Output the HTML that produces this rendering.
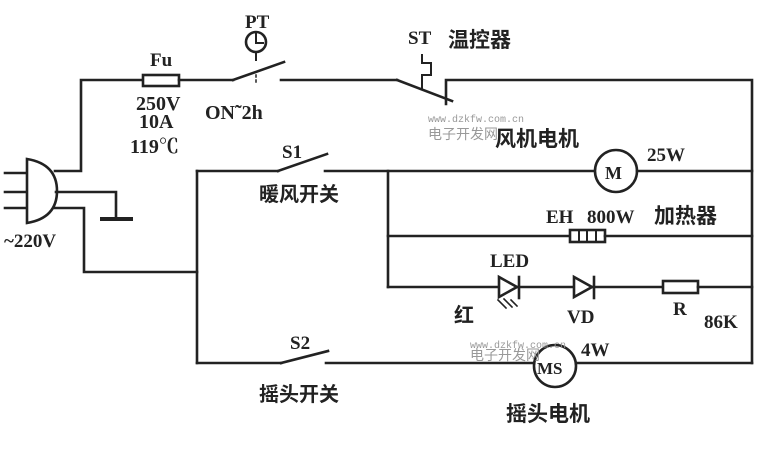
<!DOCTYPE html>
<html><head><meta charset="utf-8"><style>
html,body{margin:0;padding:0;background:#fff;}
svg text{font-family:"Liberation Serif","Noto Serif CJK SC",serif;font-weight:bold;fill:#222;}
.cn{font-family:"Liberation Sans","Noto Sans CJK SC",sans-serif;font-weight:bold;}
</style></head><body>
<svg width="761" height="448" viewBox="0 0 761 448" xmlns="http://www.w3.org/2000/svg">
<g stroke="#222" stroke-width="2.6" fill="none" stroke-linecap="square">
<line x1="5" y1="173" x2="27" y2="173"/><line x1="5" y1="192" x2="27" y2="192"/><line x1="5" y1="208" x2="27" y2="208"/>
<path d="M27 159 L27 223 Q57 218 57 191 Q57 164 27 159 Z" fill="#fff"/>
<polyline points="55,171 81,171 81,80 143,80"/>
<polyline points="56,192 116,192 116,218"/>
<line x1="102" y1="219" x2="131" y2="219" stroke-width="4"/>
<polyline points="55,208 84,208 84,272 197,272"/>
<rect x="143" y="75" width="36" height="11" fill="#fff"/>
<line x1="179" y1="80" x2="233" y2="80"/>
<line x1="233" y1="80" x2="284" y2="62"/>
<circle cx="256" cy="42" r="10"/>
<polyline points="256,34 256,43 263,43" stroke-width="2"/>
<line x1="256" y1="53" x2="256" y2="60" stroke-width="2"/>
<line x1="256" y1="75" x2="256" y2="83" stroke-width="1.5" stroke-dasharray="2,3"/>
<line x1="281" y1="80" x2="397" y2="80"/>
<line x1="397" y1="80" x2="452" y2="101"/>
<polyline points="422,55 422,63 431,63 431,75 422,75 422,88" stroke-width="2"/>
<polyline points="446,104 446,80 752,80 752,363"/>
<line x1="197" y1="171" x2="197" y2="363"/>
<line x1="197" y1="171" x2="278" y2="171"/>
<line x1="278" y1="171" x2="327" y2="154"/>
<line x1="325" y1="171" x2="595" y2="171"/>
<circle cx="616" cy="171" r="21" fill="#fff"/>
<line x1="637" y1="171" x2="752" y2="171"/>
<line x1="388" y1="171" x2="388" y2="287"/>
<line x1="388" y1="236" x2="570" y2="236"/>
<rect x="570" y="230" width="35" height="12" fill="#fff"/>
<line x1="579" y1="230" x2="579" y2="242" stroke-width="2"/><line x1="587" y1="230" x2="587" y2="242" stroke-width="2"/><line x1="596" y1="230" x2="596" y2="242" stroke-width="2"/>
<line x1="605" y1="236" x2="752" y2="236"/>
<line x1="388" y1="287" x2="664" y2="287"/>
<path d="M499 277 L499 297 L517 287 Z" fill="#fff"/>
<line x1="519" y1="277" x2="519" y2="298"/>
<path d="M574 277 L574 297 L592 287 Z" fill="#fff"/>
<line x1="594" y1="277" x2="594" y2="298"/>
<rect x="663" y="281" width="35" height="12" fill="#fff"/>
<line x1="698" y1="287" x2="752" y2="287"/>
<g stroke-width="1.6"><line x1="498" y1="300" x2="506" y2="308"/><line x1="504" y1="299" x2="512" y2="307"/><line x1="511" y1="300" x2="517" y2="306"/></g>
<line x1="197" y1="363" x2="281" y2="363"/>
<line x1="281" y1="363" x2="328" y2="351"/>
<line x1="326" y1="363" x2="534" y2="363"/>
<circle cx="555" cy="366" r="21" fill="#fff"/>
<line x1="576" y1="363" x2="752" y2="363"/>
</g>
<text x="150" y="66" font-size="19">Fu</text>
<text x="245" y="28" font-size="19">PT</text>
<text x="136" y="110" font-size="20">250V</text>
<text x="139" y="128" font-size="20">10A</text>
<text x="130" y="153" font-size="20">119℃</text>
<text x="205" y="119" font-size="20">ON˜2h</text>
<text x="408" y="44" font-size="19">ST</text>
<text x="448" y="47" font-size="21" class="cn">温控器</text>
<text x="282" y="158" font-size="19">S1</text>
<text x="259" y="201" font-size="20" class="cn">暖风开关</text>
<text x="4" y="247" font-size="19">~220V</text>
<text x="495" y="146" font-size="21" class="cn">风机电机</text>
<text x="647" y="161" font-size="19">25W</text>
<text x="605" y="179" font-size="18">M</text>
<text x="546" y="223" font-size="19">EH</text>
<text x="587" y="223" font-size="19">800W</text>
<text x="654" y="223" font-size="21" class="cn">加热器</text>
<text x="490" y="267" font-size="19">LED</text>
<text x="454" y="322" font-size="20" class="cn">红</text>
<text x="567" y="323" font-size="19">VD</text>
<text x="673" y="315" font-size="19">R</text>
<text x="704" y="328" font-size="19">86K</text>
<text x="290" y="349" font-size="19">S2</text>
<text x="259" y="401" font-size="20" class="cn">摇头开关</text>
<text x="581" y="356" font-size="19">4W</text>
<text x="537" y="374" font-size="17">MS</text>
<text x="506" y="421" font-size="21" class="cn">摇头电机</text>
<text x="428" y="122" font-size="10" style="font-family:'Liberation Mono',monospace;font-weight:normal;fill:#999">www.dzkfw.com.cn</text>
<text x="428" y="139" font-size="14" style="font-family:'Liberation Sans','Noto Sans CJK SC',sans-serif;font-weight:normal;fill:#999">电子开发网</text>
<text x="470" y="348" font-size="10" style="font-family:'Liberation Mono',monospace;font-weight:normal;fill:#999">www.dzkfw.com.cn</text>
<text x="470" y="360" font-size="14" style="font-family:'Liberation Sans','Noto Sans CJK SC',sans-serif;font-weight:normal;fill:#999">电子开发网</text>
</svg>
</body></html>
